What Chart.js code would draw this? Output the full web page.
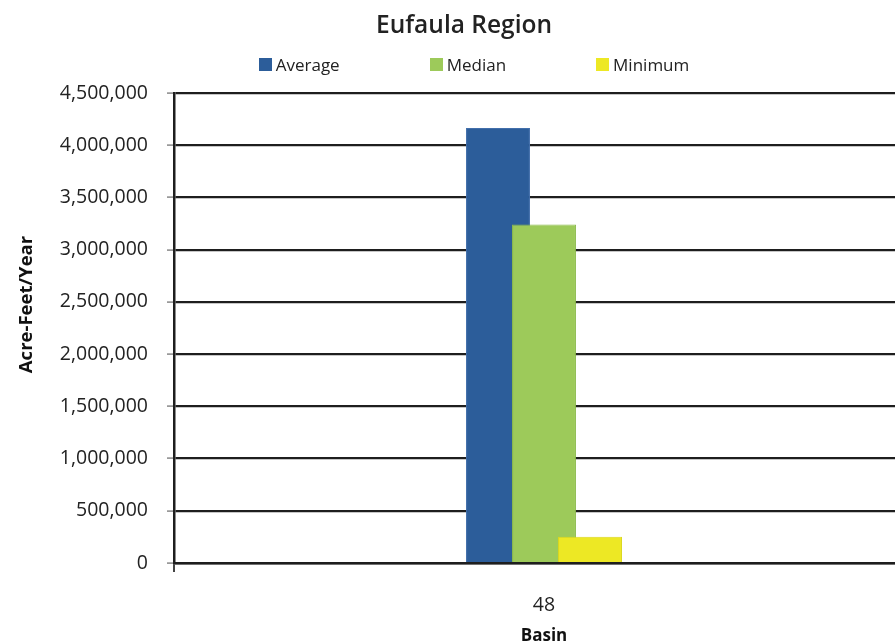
<!DOCTYPE html>
<html>
<head>
<meta charset="utf-8">
<script src="https://cdn.jsdelivr.net/npm/chart.js@4.4.1/dist/chart.umd.min.js"></script>
<style>
  html, body { margin: 0; padding: 0; background: #fff; overflow: hidden; width: 895px; height: 644px; }
  #wrap { position: absolute; left: 0; top: 0; width: 928px; height: 644px; }
  #legend { position: absolute; left: 0; top: 53px; width: 928px; padding-left: 20px; box-sizing: border-box;
            display: flex; justify-content: center; gap: 90px; font-family: 'Open Sans', sans-serif; font-size: 17px; color: #222; }
  #legend span.item { display: flex; align-items: center; }
  #legend i { display: inline-block; width: 13px; height: 13px; margin-right: 4px; }
</style>
</head>
<body>
<div id="wrap">
  <canvas id="flowChart" width="928" height="644"></canvas>
  <div id="legend"></div>
</div>
<script>
// values
const basins = ['48'];
const seriesNames = ['Average', 'Median', 'Minimum'];
const averageFlow = [4165000];
const medianFlow = [3240000];
const minimumFlow = [252000];
const yMax = 4500000;
const yStep = 500000;
const yTitle = 'Acre-Feet/Year';

const colors = ['#2c5d9a', '#9dca5a', '#ede824'];
const borders = ['#426fab', '#8cbb4c', '#dcd71c'];

// later series sit on top of earlier ones, like the original
const drawOrder = {
    id: 'drawOrder',
    beforeDatasetsDraw(chart) {
        const ctx = chart.ctx, a = chart.chartArea;
        ctx.save();
        ctx.beginPath();
        ctx.rect(a.left, a.top, a.right - a.left, a.bottom - a.top);
        ctx.clip();
        chart.getSortedVisibleDatasetMetas().forEach(m => m.controller.draw());
        ctx.restore();
        return false;
    }
};

// y title sits a bit above the middle of the axis in the original
const yTitlePlugin = {
    id: 'yTitlePlugin',
    afterDraw(chart) {
        const ctx = chart.ctx, a = chart.chartArea;
        ctx.save();
        ctx.translate(27, a.top + (a.bottom - a.top) * 0.45);
        ctx.rotate(-Math.PI / 2);
        ctx.font = 'bold 18.5px "Open Sans"';
        ctx.fillStyle = '#111';
        ctx.textAlign = 'center';
        ctx.textBaseline = 'middle';
        ctx.fillText(yTitle, 0, 0);
        ctx.restore();
    }
};

const tickFont = { family: 'Open Sans', size: 19.5 };
const axisTitleFont = { family: 'Open Sans', size: 17, weight: 'bold' };

const chart = new Chart(document.getElementById('flowChart'), {
    type: 'bar',
    data: {
        labels: basins,
        datasets: [averageFlow, medianFlow, minimumFlow].map((d, i) => ({
            label: seriesNames[i],
            data: d,
            backgroundColor: colors[i],
            borderColor: borders[i],
            borderWidth: 1
        }))
    },
    options: {
        responsive: false,
        animation: false,
        layout: { padding: { left: 14, right: 14, top: 0, bottom: 0 } },
        datasets: { bar: { categoryPercentage: 0.1865, barPercentage: 1.39 } },
        plugins: {
            legend: { display: false },
            tooltip: { enabled: false },
            title: {
                display: true,
                text: 'Eufaula Region',
                color: '#222',
                font: { family: 'Open Sans', size: 24.5, weight: '600' },
                padding: { top: 11, bottom: 52.6 }
            }
        },
        scales: {
            x: {
                grid: { drawOnChartArea: false, tickLength: 9, color: '#444', lineWidth: 2 },
                border: { color: '#1e1e1e', width: 2.5 },
                ticks: { font: tickFont, color: '#222', padding: 22 },
                title: { display: true, text: 'Basin', font: axisTitleFont, color: '#111', padding: { top: 2, bottom: -2 } },
                afterFit(scale) { scale.height = 81; }
            },
            y: {
                min: 0,
                max: yMax,
                ticks: {
                    stepSize: yStep,
                    font: tickFont,
                    color: '#222',
                    padding: 19,
                    callback: v => v.toLocaleString('en-US')
                },
                grid: { color: '#1e1e1e', lineWidth: 2.2, tickLength: 7, tickColor: '#888', tickWidth: 1.5 },
                border: { color: '#1e1e1e', width: 2.5 },
                afterFit(scale) { scale.width = 160; }
            }
        }
    },
    plugins: [drawOrder, yTitlePlugin]
});

// legend laid out wide like the original
const legend = document.getElementById('legend');
chart.data.datasets.forEach(ds => {
    const item = document.createElement('span');
    item.className = 'item';
    const box = document.createElement('i');
    box.style.background = ds.backgroundColor;
    item.appendChild(box);
    item.appendChild(document.createTextNode(ds.label));
    legend.appendChild(item);
});
</script>
</body>
</html>
